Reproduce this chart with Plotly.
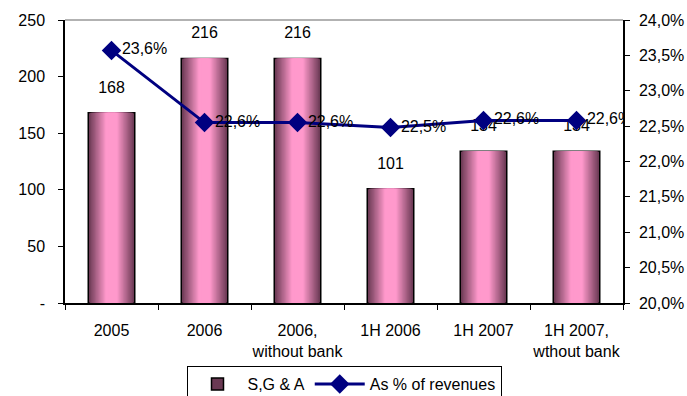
import plotly.graph_objects as go

categories = ["2005", "2006", "2006,<br>without bank", "1H 2006", "1H 2007", "1H 2007,<br>wthout bank"]
sga_values = [168, 216, 216, 101, 134, 134]
pct_values = [23.57, 22.55, 22.55, 22.48, 22.58, 22.58]
pct_labels = ["23,6%", "22,6%", "22,6%", "22,5%", "22,6%", "22,6%"]
left_ticks = [0, 50, 100, 150, 200, 250]
left_ticktext = ["-", "50", "100", "150", "200", "250"]
right_ticks = [20.0, 20.5, 21.0, 21.5, 22.0, 22.5, 23.0, 23.5, 24.0]
right_ticktext = [("%.1f%%" % v).replace(".", ",") for v in right_ticks]

FONT = "Liberation Sans, Arial, sans-serif"
FS = 16


def mix(c1, c2, t):
    a = [int(c1[i:i + 2], 16) for i in (1, 3, 5)]
    b = [int(c2[i:i + 2], 16) for i in (1, 3, 5)]
    return "rgb(%d,%d,%d)" % tuple(round(a[k] + (b[k] - a[k]) * t) for k in range(3))


fig = go.Figure()

edge = "#6a3953"
center = "#ff99cc"
N = 16
full_w = 0.5
for i in range(N):
    t = i / (N - 1)
    w = full_w * (1 - 0.85 * t)
    col = mix(edge, center, min(1.0, t * 1.15))
    fig.add_trace(go.Bar(
        x=categories, y=sga_values, width=w,
        marker=dict(color=col, line=dict(color="black", width=1.5 if i == 0 else 0)),
        name="S,G & A", showlegend=(i == 0), hoverinfo="skip",
    ))

# value labels above the bars
fig.add_trace(go.Scatter(
    x=categories, y=sga_values, mode="markers+text", text=[str(v) for v in sga_values],
    textposition="top center", textfont=dict(family=FONT, size=FS, color="black"),
    marker=dict(size=24, opacity=0), showlegend=False, hoverinfo="skip",
))

fig.add_trace(go.Scatter(
    x=categories, y=pct_values, yaxis="y2", name="As % of revenues",
    mode="lines+markers+text", text=pct_labels, textposition="middle right",
    textfont=dict(family=FONT, size=FS, color="black"),
    line=dict(color="#000080", width=3),
    marker=dict(symbol="diamond", size=15, color="#000080"),
))

fig.add_shape(type="line", xref="paper", yref="paper", x0=0, x1=1, y0=1, y1=1,
              line=dict(color="#999999", width=1.5))

fig.update_layout(
    width=687, height=396,
    margin=dict(l=65, r=64, t=20, b=93, autoexpand=False),
    paper_bgcolor="white", plot_bgcolor="white",
    barmode="overlay",
    font=dict(family=FONT, size=FS, color="black"),
    xaxis=dict(
        type="category", showline=True, linecolor="black", linewidth=1.5,
        ticks="outside", ticklen=5, tickcolor="black", tickson="boundaries",
        showgrid=False, ticklabelstandoff=12, tickangle=0, automargin=False,
    ),
    yaxis=dict(
        range=[0, 250], tickvals=left_ticks, ticktext=left_ticktext,
        showline=True, linecolor="black", linewidth=1.5,
        ticks="outside", ticklen=5, tickcolor="black",
        showgrid=False, zeroline=False, ticklabelstandoff=10, automargin=False,
    ),
    yaxis2=dict(
        range=[20, 24], overlaying="y", side="right",
        tickvals=right_ticks, ticktext=right_ticktext,
        showline=True, linecolor="black", linewidth=1.5,
        ticks="outside", ticklen=5, tickcolor="black",
        showgrid=False, zeroline=False, ticklabelstandoff=6, automargin=False,
    ),
    legend=dict(
        orientation="h", x=0.5, xanchor="center",
        yref="container", y=1 - 366 / 396, yanchor="top",
        bordercolor="black", borderwidth=1, bgcolor="white",
        itemwidth=50,
    ),
)

fig.write_html("out.html")
